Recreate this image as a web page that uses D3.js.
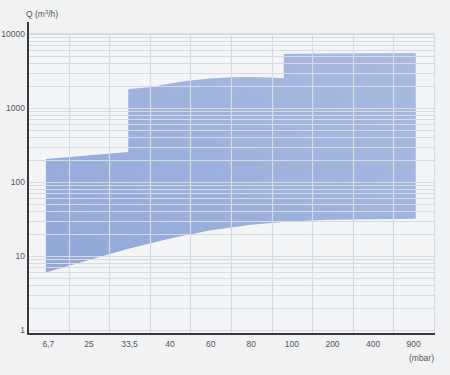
<!DOCTYPE html>
<html>
<head>
<meta charset="utf-8">
<script src="https://cdn.jsdelivr.net/npm/d3@7"></script>
<style>
  html, body { margin: 0; padding: 0; background: #f1f2f4; }
  svg { display: block; }
  text { font-family: "Liberation Sans", "Open Sans", sans-serif; }
</style>
</head>
<body>
<svg id="chart"></svg>
<script>
// pressure classes (x axis, categorical)
const pressures = ["6,7", "25", "33,5", "40", "60", "80", "100", "200", "400", "900"];
// y axis ticks, flow rate Q (m3/h)
const flowTicks = [1, 10, 100, 1000, 10000];

// upper edge of the range: [category index, Q]
const upperIdx = [-0.06, 1.97, 1.97, 2.5, 3.0, 3.5, 4.0, 4.5, 5.0, 5.5, 5.8, 5.8, 9.05];
const upperQ   = [205, 254, 1800, 1900, 2150, 2350, 2500, 2600, 2620, 2580, 2530, 5400, 5550];
// lower edge of the range
const lowerIdx = [-0.06, 1, 2, 3, 4, 5, 6, 7, 8, 9.05];
const lowerQ   = [6.0, 8.8, 12.6, 17.3, 22.3, 26.5, 29.5, 31, 31.5, 31.8];

const width = 450, height = 375;
const marginLeft = 28, marginRight = 16, plotTop = 34, plotBottom = 330, axisY = 334;

const svg = d3.select("#chart")
  .attr("width", width)
  .attr("height", height);

// scales
const x = d3.scaleBand()
  .domain(pressures)
  .range([marginLeft, width - marginRight])
  .padding(0);

const xi = d3.scaleLinear()  // index space for the area outline
  .domain([-0.5, pressures.length - 0.5])
  .range([marginLeft, width - marginRight]);

const y = d3.scaleLog()
  .domain([1, 10000])
  .range([plotBottom, plotTop]);

// gradient for the area
const grad = svg.append("defs").append("linearGradient")
  .attr("id", "area-gradient")
  .attr("x1", "0%").attr("y1", "100%")
  .attr("x2", "100%").attr("y2", "0%");
grad.append("stop").attr("offset", "0%").attr("stop-color", "#91a8d9");
grad.append("stop").attr("offset", "100%").attr("stop-color", "#aabbe0");

// plot background
svg.append("rect")
  .attr("x", marginLeft)
  .attr("y", plotTop - 1)
  .attr("width", width - marginRight - marginLeft)
  .attr("height", axisY - plotTop + 1)
  .attr("fill", "#f4f5f7");

// the range polygon
const upper = upperIdx.map((d, i) => [xi(d), y(upperQ[i])]);
const lower = lowerIdx.map((d, i) => [xi(d), y(lowerQ[i])]).reverse();
const outline = d3.line().curve(d3.curveLinear);

svg.append("path")
  .attr("d", outline(upper.concat(lower)) + "Z")
  .attr("fill", "url(#area-gradient)");

// horizontal grid (decades + minor)
const minor = [];
for (let dec = 1; dec < 10000; dec *= 10) {
  for (let k = 1; k < 10; k++) minor.push(dec * k);
}
minor.push(10000);

svg.append("g")
  .selectAll("line")
  .data(minor)
  .join("line")
  .attr("x1", marginLeft)
  .attr("x2", width - marginRight)
  .attr("y1", d => Math.round(y(d)) + 0.5)
  .attr("y2", d => Math.round(y(d)) + 0.5)
  .attr("stroke", "#d6dae3")
  .attr("stroke-width", 1);

// top border line
svg.append("line")
  .attr("x1", marginLeft).attr("x2", width - marginRight)
  .attr("y1", plotTop - 0.5).attr("y2", plotTop - 0.5)
  .attr("stroke", "#d6dae3");

// vertical grid at band boundaries
svg.append("g")
  .selectAll("line")
  .data(pressures)
  .join("line")
  .attr("x1", d => Math.round(x(d) + x.bandwidth()) + 0.5)
  .attr("x2", d => Math.round(x(d) + x.bandwidth()) + 0.5)
  .attr("y1", plotTop - 1)
  .attr("y2", axisY)
  .attr("stroke", "#d6dae3")
  .attr("stroke-width", 1.2);

// axis lines
svg.append("line")
  .attr("x1", marginLeft).attr("x2", marginLeft)
  .attr("y1", 22).attr("y2", axisY + 1)
  .attr("stroke", "#3a3a3a").attr("stroke-width", 2);

svg.append("line")
  .attr("x1", marginLeft - 1).attr("x2", width - marginRight + 1)
  .attr("y1", axisY).attr("y2", axisY)
  .attr("stroke", "#3a3a3a").attr("stroke-width", 2);

// x axis labels
svg.append("g")
  .attr("transform", `translate(0,${axisY})`)
  .call(d3.axisBottom(x).tickSize(0).tickPadding(7))
  .call(g => g.select(".domain").remove())
  .selectAll("text")
  .attr("fill", "#555")
  .attr("font-size", 8.5)
  .attr("font-family", "Liberation Sans, sans-serif");

// y axis labels
svg.append("g")
  .attr("transform", `translate(${marginLeft},0)`)
  .call(d3.axisLeft(y).tickValues(flowTicks).tickFormat(d3.format("d")).tickSize(0).tickPadding(3))
  .call(g => g.select(".domain").remove())
  .selectAll("text")
  .attr("fill", "#555")
  .attr("font-size", 8.5)
  .attr("font-family", "Liberation Sans, sans-serif");

// axis titles
const title = svg.append("text")
  .attr("x", 26)
  .attr("y", 17)
  .attr("font-size", 8.5)
  .attr("fill", "#555");
title.append("tspan").text("Q (m");
title.append("tspan").attr("font-size", 6).attr("dy", -3).text("3");
title.append("tspan").attr("dy", 3).text("/h)");

svg.append("text")
  .attr("x", 434)
  .attr("y", 361)
  .attr("text-anchor", "end")
  .attr("font-size", 8.5)
  .attr("fill", "#555")
  .text("(mbar)");
</script>
</body>
</html>
